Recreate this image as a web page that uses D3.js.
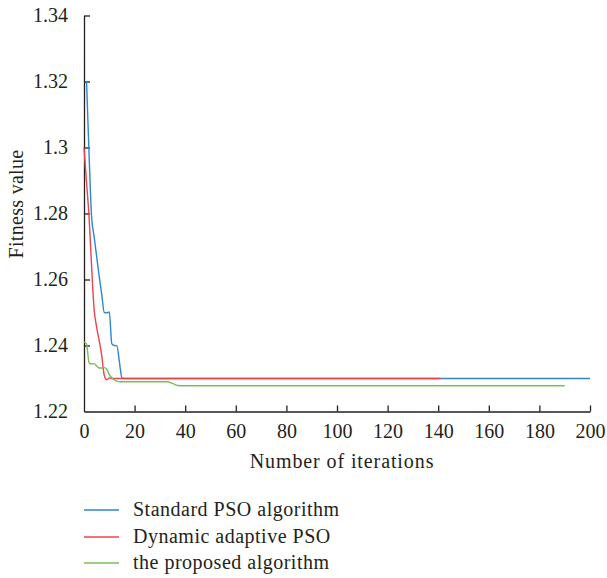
<!DOCTYPE html>
<html>
<head>
<meta charset="utf-8">
<script src="https://cdn.jsdelivr.net/npm/d3@7"></script>
<style>
  body { margin: 0; background: #fff; }
  svg text { font-family: "Liberation Serif", "Times New Roman", Times, "DejaVu Serif", serif !important; fill: #231f20; }
</style>
</head>
<body>
<svg id="chart" width="607" height="578"></svg>
<script>
// ---- data ----
const xTicks = [0, 20, 40, 60, 80, 100, 120, 140, 160, 180, 200];
const yTicks = [1.22, 1.24, 1.26, 1.28, 1.30, 1.32, 1.34];
const yTickLabels = ["1.22", "1.24", "1.26", "1.28", "1.3", "1.32", "1.34"];

const seriesNames = ["Standard PSO algorithm", "Dynamic adaptive PSO", "the proposed algorithm"];
const seriesColors = ["#2e86cb", "#e8464b", "#7dbb5c"];

const stdIter = [1, 2, 3, 4, 5, 6, 7, 8, 9, 10, 11, 12, 13, 14, 15, 16, 200];
const stdValue = [1.320, 1.298, 1.279, 1.273, 1.267, 1.261, 1.2555, 1.2500, 1.2499, 1.2502, 1.2405, 1.2400, 1.2399, 1.2350, 1.2302, 1.2300, 1.2300];

const dynIter = [0, 1, 2, 3, 4, 5, 6, 7, 8, 9, 10, 11, 141];
const dynValue = [1.300, 1.2895, 1.279, 1.264, 1.251, 1.2455, 1.2415, 1.2370, 1.2310, 1.2296, 1.2302, 1.2300, 1.2300];

const propIter = [0, 1, 2, 3, 4, 5, 6, 7, 8, 9, 10, 11, 12, 13, 14, 33, 35, 37, 40, 190];
const propValue = [1.2410, 1.2405, 1.2348, 1.2344, 1.2345, 1.2338, 1.2332, 1.2332, 1.2333, 1.2328, 1.2312, 1.2302, 1.2296, 1.2292, 1.2290, 1.2290, 1.2285, 1.2279, 1.2278, 1.2278];

// ---- layout ----
const svg = d3.select("#chart");
const x = d3.scaleLinear().domain([0, 200]).range([84, 590]);
const y = d3.scaleLinear().domain([1.22, 1.34]).range([411.5, 15.5]);

const axisColor = "#231f20";
const serif = "'Liberation Serif', 'Times New Roman', Times, 'DejaVu Serif', serif";

// x axis
const xAxis = d3.axisBottom(x).tickValues(xTicks).tickSize(-6).tickPadding(12).tickSizeOuter(0);
const gx = svg.append("g").attr("transform", "translate(0,411.5)").call(xAxis)
  .attr("font-family", serif).attr("font-size", 20);
gx.select(".domain").attr("stroke", axisColor).attr("stroke-width", 1.3);
gx.selectAll(".tick line").attr("stroke", axisColor).attr("stroke-width", 1.3);
gx.selectAll(".tick").filter(d => d === 0).select("line").remove();
gx.selectAll(".tick text").attr("fill", axisColor);

// y axis
const yAxis = d3.axisLeft(y).tickValues(yTicks).tickFormat((d, i) => yTickLabels[i]).tickSize(-6).tickPadding(16).tickSizeOuter(0);
const gy = svg.append("g").attr("transform", "translate(84,0)").call(yAxis)
  .attr("font-family", serif).attr("font-size", 20);
gy.select(".domain").attr("stroke", axisColor).attr("stroke-width", 1.3);
gy.selectAll(".tick line").attr("stroke", axisColor).attr("stroke-width", 1.3);
gy.selectAll(".tick").filter(d => d === 1.22).select("line").remove();
gy.selectAll(".tick text").attr("fill", axisColor);

// axis titles
svg.append("text").attr("x", 342).attr("y", 468).attr("text-anchor", "middle")
  .attr("font-family", serif).attr("font-size", 20).attr("letter-spacing", 0.9).text("Number of iterations");
svg.append("text").attr("transform", "translate(23,204) rotate(-90)").attr("text-anchor", "middle")
  .attr("font-family", serif).attr("font-size", 20).attr("letter-spacing", 0.3).text("Fitness value");

// lines
const line = d3.line().x(d => x(d[0])).y(d => y(d[1])).curve(d3.curveMonotoneX);
const series = [
  d3.zip(stdIter, stdValue),
  d3.zip(dynIter, dynValue),
  d3.zip(propIter, propValue)
];
series.forEach((s, i) => {
  svg.append("path").datum(s).attr("d", line)
    .attr("fill", "none").attr("stroke", seriesColors[i]).attr("stroke-width", 1.4);
});

// legend
const legY = [510, 537, 563];
seriesNames.forEach((name, i) => {
  svg.append("line").attr("x1", 84).attr("x2", 119).attr("y1", legY[i]).attr("y2", legY[i])
    .attr("stroke", seriesColors[i]).attr("stroke-width", 1.4);
  svg.append("text").attr("x", 133).attr("y", legY[i] + 6)
    .attr("font-family", serif).attr("font-size", 20).attr("letter-spacing", 0.5).text(name);
});
</script>
</body>
</html>
